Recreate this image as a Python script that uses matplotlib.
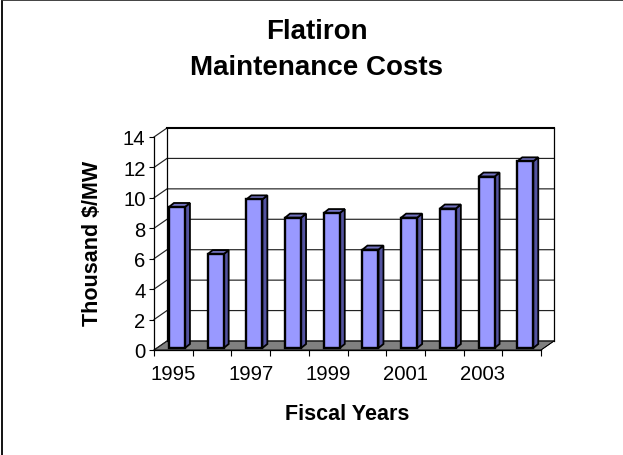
import matplotlib
matplotlib.use("Agg")
import matplotlib.pyplot as plt
from matplotlib.lines import Line2D
from matplotlib.patches import Polygon

years = [1995, 1996, 1997, 1998, 1999, 2000, 2001, 2002, 2003, 2004]
costs = [9.4, 6.3, 9.9, 8.7, 9.0, 6.6, 8.7, 9.3, 11.4, 12.4]
y_ticks = [0, 2, 4, 6, 8, 10, 12, 14]
title_text = "Flatiron\nMaintenance Costs"
x_title = "Fiscal Years"
y_title = "Thousand $/MW"

W, H = 623, 456
plt.rcParams["font.family"] = ["Liberation Sans", "DejaVu Sans"]
fig = plt.figure(figsize=(W / 100, H / 100), dpi=100, facecolor="white")

# front plane of the 3D box, in pixels
L, R, T, B = 154, 541, 138, 351
ax = fig.add_axes([L / W, 1 - B / H, (R - L) / W, (B - T) / H])
ax.set_xlim(0, len(years))
ax.set_ylim(0, 14)
ax.patch.set_visible(False)
for s in ax.spines.values():
    s.set_visible(False)

px_x = len(years) / (R - L)
px_y = 14 / (B - T)
dx, dy = 13 * px_x, 9 * px_y
n = len(years)

# floor
ax.add_patch(Polygon([(0, 0), (n, 0), (n + dx, dy), (dx, dy)], closed=True,
                     fc="#808080", ec="black", lw=0.6, clip_on=False, zorder=1))
# gridlines on back and side walls
for t in y_ticks:
    ax.plot([0, dx, n + dx], [t, t + dy, t + dy], color="#222222", lw=0.85,
            clip_on=False, zorder=1.5, solid_joinstyle="miter")
ax.plot([dx, dx], [dy, 14 + dy], color="black", lw=0.9, clip_on=False, zorder=1.5)
ax.plot([n + dx, n + dx], [dy, 14 + dy], color="black", lw=0.9, clip_on=False, zorder=1.5)
ax.plot([n, n + dx], [0, dy], color="black", lw=0.6, clip_on=False, zorder=1.5)
ax.plot([dx, n + dx], [14 + dy, 14 + dy], color="black", lw=1.5, clip_on=False, zorder=1.5)

# bars
bw = 16 * px_x
sy = 0.22 * dy
bdx, bdy = 5 * px_x, 4 * px_y
for i, v in enumerate(costs):
    x0 = i + 0.5 - bw / 2 + 3.6 * px_x
    x1 = x0 + bw
    ax.add_patch(Polygon([(x1, sy), (x1 + bdx, sy + bdy), (x1 + bdx, v + bdy), (x1, v)],
                         closed=True, fc="#5353A0", ec="black", lw=1.3, clip_on=False, zorder=3))
    ax.add_patch(Polygon([(x0, v), (x1, v), (x1 + bdx, v + bdy), (x0 + bdx, v + bdy)],
                         closed=True, fc="#7272C0", ec="black", lw=1.3, clip_on=False, zorder=3))
    ax.bar(x0, v - sy, width=bw, bottom=sy, align="edge", color="#9999FF",
           edgecolor="black", linewidth=1.7, clip_on=False, zorder=4)

# axes
ax.plot([0, 0], [0, 14], color="black", lw=0.9, clip_on=False, zorder=2)
ax.plot([0, n], [0, 0], color="black", lw=0.9, clip_on=False, zorder=2)
ax.set_yticks(y_ticks)
ax.set_xticks(range(n + 1))
ax.set_xticklabels([])
ax.tick_params(axis="y", length=3.6, width=0.8, labelsize=14.6, pad=2.5)
ax.tick_params(axis="x", length=4, width=0.8)
for i in range(0, n, 2):
    ax.annotate(str(years[i]), xy=(i + 0.5, 0), xytext=(0, -10), textcoords="offset points",
                ha="center", va="top", fontsize=14.6, annotation_clip=False)

fig.text(317 / W, 1 - 50 / H, title_text, ha="center", va="center", fontsize=20,
         fontweight="bold", linespacing=1.5)
fig.text(347 / W, 1 - 414 / H, x_title, ha="center", va="center", fontsize=15.5, fontweight="bold")
fig.text(92 / W, 1 - 243.5 / H, y_title, ha="center", va="center", rotation=90,
         fontsize=15.5, fontweight="bold")

# partial outer frame
fig.add_artist(Line2D([2.5 / W, 2.5 / W], [1 - 1 / H, 0], color="black", lw=1.3))
fig.add_artist(Line2D([2 / W, 1], [1 - 1 / H, 1 - 1 / H], color="#333333", lw=1.3))

fig.savefig("out.png", dpi=100)
